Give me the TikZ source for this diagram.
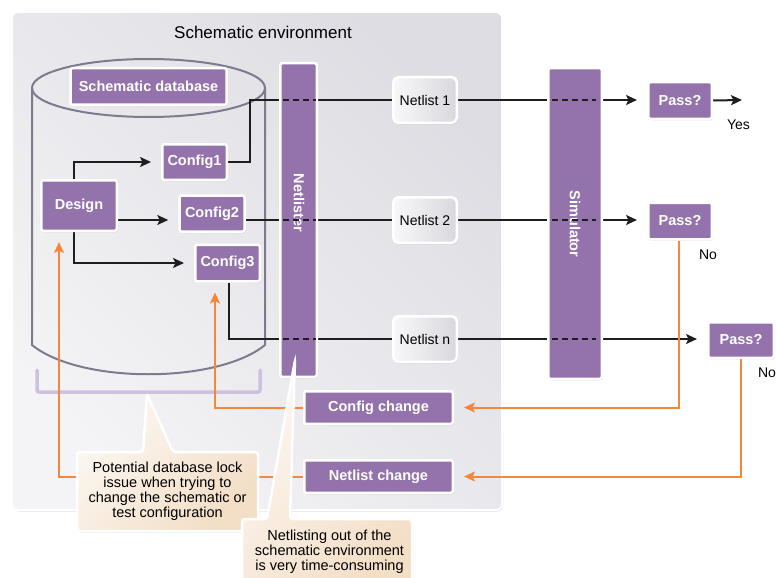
\documentclass[tikz,border=0pt]{standalone}
\usepackage{fontspec}
\setmainfont{Liberation Sans}
\usetikzlibrary{shadows,arrows.meta,calc}

\definecolor{purp}{HTML}{9473AC}
\definecolor{orng}{HTML}{F5873A}
\definecolor{cylgray}{HTML}{7C7C8E}
\definecolor{brack}{HTML}{CEC1DE}
\definecolor{panellight}{HTML}{F4F4F6}
\definecolor{paneldark}{HTML}{DDDDE3}
\definecolor{nboxlight}{HTML}{F8F8FA}
\definecolor{nboxdark}{HTML}{D8D8DD}
\definecolor{peachlight}{HTML}{FCF8F3}
\definecolor{peachdark}{HTML}{F3DEC6}
\definecolor{inkline}{HTML}{1E1E1E}

\pgfdeclarelayer{back}
\pgfdeclarelayer{lines}
\pgfdeclarelayer{front}
\pgfsetlayers{back,lines,main,front}

\tikzset{
  softshadow/.style={drop shadow={shadow xshift=1pt, shadow yshift=-1.5pt, opacity=.25}},
  pbox/.style={draw=white, line width=2.5pt, fill=purp, text=white, rounded corners=2pt,
    font=\bfseries\fontsize{14.5}{16}\selectfont, inner sep=0pt, softshadow},
  nbox/.style={draw=white, line width=2.5pt, left color=nboxlight, right color=nboxdark,
    rounded corners=5pt, font=\fontsize{14}{16}\selectfont, inner sep=0pt,
    minimum width=63.5pt, minimum height=45.5pt, softshadow},
  coltext/.style={text=white, font=\bfseries\fontsize{14.5}{16}\selectfont, rotate=-90, inner sep=0pt},
  conn/.style={draw=inkline, line width=2pt, shorten >=10pt,
    -{Stealth[length=11pt,width=10pt,inset=2.5pt]}},
  plainconn/.style={draw=inkline, line width=2pt},
  oconn/.style={draw=orng, line width=2pt, shorten >=10pt,
    -{Stealth[length=11pt,width=10pt,inset=2.5pt]}},
  overdash/.style={draw=inkline, line width=2pt, dash pattern=on 6pt off 4pt},
  callout/.style={draw=white, line width=2.5pt, rounded corners=3pt,
    top color=peachlight, bottom color=peachdark, shading angle=45, softshadow},
  ctext/.style={align=center, font=\fontsize{14.5}{15}\selectfont, inner sep=0pt},
  lbl/.style={font=\fontsize{14}{16}\selectfont, inner sep=0pt},
}

\begin{document}
\begin{tikzpicture}[x=1pt,y=-1pt]
\useasboundingbox (0,0) rectangle (777,578);

\begin{pgfonlayer}{back}
  % environment panel
  \path[draw=white, line width=2pt, rounded corners=6pt, top color=panellight,
        bottom color=paneldark, shading angle=135, softshadow]
    (12,12) rectangle (502,510);
  % database cylinder
  \draw[cylgray, line width=2pt] (32,88) -- (32,345)
    .. controls (80,384) and (217,384) .. (265,345) -- (265,88);
  \draw[cylgray, line width=2pt] (148.5,88) ellipse [x radius=116.5, y radius=29];
  % bracket under the cylinder
  \draw[brack, line width=3.5pt, rounded corners=2pt, line cap=round]
    (37,370) -- (37,392) -- (260,392) -- (260,370);
\end{pgfonlayer}

\node[font=\fontsize{17}{19}\selectfont, inner sep=0pt] (envtitle) at (263,32) {Schematic environment};

% schematic side
\node[pbox, minimum width=156pt, minimum height=36.5pt] (sdb) at (148.5,86.5) {Schematic database};
\node[pbox, minimum width=75.5pt, minimum height=50.5pt] (design) at (79,205.5) {Design};
\node[pbox, minimum width=64.5pt, minimum height=35.5pt] (cfg1) at (194.5,162) {Config1};
\node[pbox, minimum width=65pt, minimum height=36pt] (cfg2) at (212,213.5) {Config2};
\node[pbox, minimum width=64.5pt, minimum height=36.5pt] (cfg3) at (227.5,263) {Config3};

% tool columns
\node[pbox, minimum width=36.5pt, minimum height=313.5pt] (netlister) at (298.5,220) {};
\node[coltext] (netlistertxt) at (299,203) {Netlister};
\node[pbox, minimum width=53.5pt, minimum height=310.5pt] (sim) at (575,223.5) {};
\node[coltext] (simtxt) at (575,224) {Simulator};

% netlists and checks
\node[nbox] (n1) at (425,100) {Netlist 1};
\node[nbox] (n2) at (425,220) {Netlist 2};
\node[nbox] (nn) at (425,339) {Netlist n};

\node[pbox, minimum width=63.5pt, minimum height=36.5pt] (p1) at (680,100.5) {Pass?};
\node[pbox, minimum width=63.5pt, minimum height=36.5pt] (p2) at (680,221) {Pass?};
\node[pbox, minimum width=65.5pt, minimum height=35.5pt] (pn) at (741,340) {Pass?};

\node[pbox, minimum width=148.5pt, minimum height=32.5pt] (cfgch) at (378.5,407.5) {Config change};
\node[pbox, minimum width=148.5pt, minimum height=32.5pt] (netch) at (378.5,476.5) {Netlist change};

\coordinate (k1) at (250,100);
\coordinate (yesend) at (742,100);

\begin{pgfonlayer}{lines}
  % signal flow
  \draw[plainconn] (cfg1.east) -| (k1) -- (n1.west);
  \draw[conn] ([xshift=-5pt]design.north) |- (cfg1.west);
  \draw[conn] (design.east |- n2.west) -- (cfg2.west |- n2.west);
  \draw[conn] ([xshift=-5pt]design.south) |- (cfg3.west);
  \draw[plainconn] (cfg2.east |- n2.west) -- (n2.west);
  \draw[plainconn] ([xshift=1.5pt]cfg3.south) |- (nn.west);
  \draw[conn] (n1.east) -- (p1.west |- n1.east);
  \draw[conn] (n2.east) -- (p2.west |- n2.east);
  \draw[conn] (nn.east) -- (pn.west |- nn.east);
  \draw[conn, shorten >=0pt] (p1.east) -- (yesend);
  % feedback loops
  \draw[oconn] ([xshift=-1pt]p2.south) |- (cfgch.east);
  \draw[oconn] (pn.south) |- (netch.east);
  \draw[oconn] (cfgch.west) -| ([xshift=-12.5pt]cfg3.south);
  \draw[oconn] (netch.west) -| ([xshift=-20pt]design.south);
\end{pgfonlayer}

\begin{pgfonlayer}{front}
  % dashed crossings through the columns
  \draw[overdash] (283,100) -- (316,100);
  \draw[overdash] (283,220) -- (316,220);
  \draw[overdash] (283,339) -- (316,339);
  \draw[overdash] (552,100) -- (596,100);
  \draw[overdash] (552,220) -- (596,220);
  \draw[overdash] (552,339) -- (596,339);

  % answer labels
  \node[lbl] (yes) at (738.5,125) {Yes};
  \node[lbl] (no2) at (708,255) {No};
  \node[lbl] (non) at (767,373) {No};

  % callouts
  \path[callout] (77,452) -- (143,452) -- (147,394) -- (173,452) -- (258,452)
    -- (258,531) -- (77,531) -- cycle;
  \node[ctext] (locknote) at (167.5,491.5)
    {Potential database lock\\issue when trying to\\change the schematic or\\test configuration};
  \path[callout] (242,519) -- (267,519) -- (295,360) -- (290,519) -- (412,519)
    -- (412,600) -- (242,600) -- cycle;
  \node[ctext] (timenote) at (329.5,552)
    {Netlisting out of the\\schematic environment\\is very time-consuming};
\end{pgfonlayer}
\end{tikzpicture}
\end{document}
